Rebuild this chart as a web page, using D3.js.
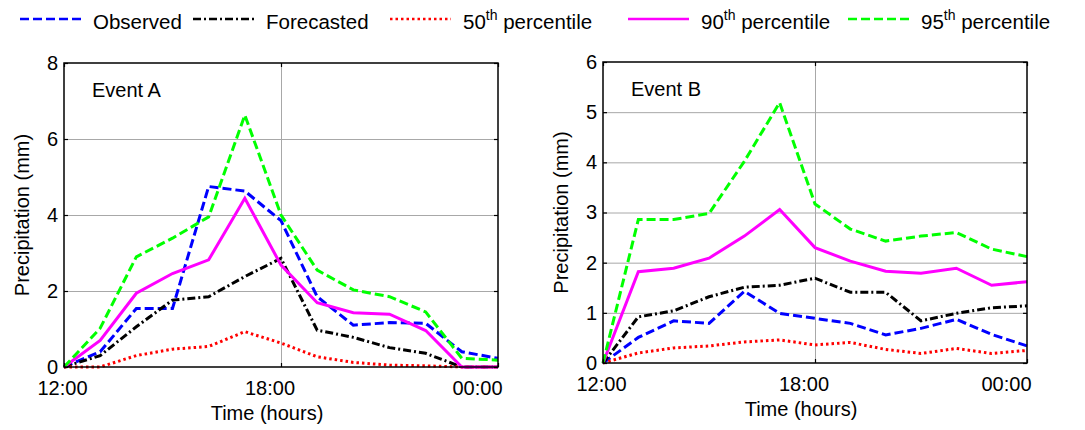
<!DOCTYPE html>
<html>
<head>
<meta charset="utf-8">
<script src="https://cdn.jsdelivr.net/npm/d3@7"></script>
<style>
  body { margin: 0; background: #fff; }
  svg { display: block; font-family: Arial, "Liberation Sans", sans-serif; }
  .grid line { stroke: #a8a8a8; stroke-width: 1; }
  .grid path { display: none; }
  .ticks path { display: none; }
  .ticks line { stroke: #000; stroke-width: 1.2; }
  .ticks text { font-size: 20px; fill: #000; }
</style>
</head>
<body>
<svg width="1085" height="430"></svg>
<script>
// hours after 12:00
let hours = [0, 1, 2, 3, 4, 5, 6, 7, 8, 9, 10, 11, 12];
let xTickValues = [0, 6, 12];
let xTickLabels = ["12:00", "18:00", "00:00"];

let seriesNames = ["Observed", "Forecasted", "50", "90", "95"];

// Event A
let aObserved = [0, 0.4, 1.54, 1.54, 4.75, 4.63, 3.85, 1.85, 1.1, 1.17, 1.15, 0.4, 0.23];
let aForecast = [0, 0.3, 1.06, 1.76, 1.85, 2.38, 2.86, 0.97, 0.78, 0.51, 0.36, 0, 0];
let aP50 = [0, 0, 0.3, 0.47, 0.54, 0.93, 0.63, 0.27, 0.12, 0.05, 0.03, 0, 0];
let aP90 = [0, 0.7, 1.94, 2.46, 2.82, 4.44, 2.68, 1.69, 1.43, 1.39, 0.96, 0, 0];
let aP95 = [0, 1.02, 2.9, 3.39, 3.95, 6.63, 4.0, 2.55, 2.03, 1.85, 1.45, 0.23, 0.18];

// Event B
let bObserved = [0, 0.51, 0.84, 0.79, 1.43, 0.99, 0.89, 0.79, 0.56, 0.69, 0.87, 0.57, 0.34];
let bForecast = [0, 0.92, 1.04, 1.32, 1.51, 1.55, 1.69, 1.41, 1.41, 0.84, 0.99, 1.1, 1.14];
let bP50 = [0, 0.2, 0.3, 0.34, 0.42, 0.46, 0.36, 0.41, 0.27, 0.19, 0.29, 0.19, 0.25];
let bP90 = [0, 1.82, 1.89, 2.09, 2.53, 3.06, 2.3, 2.03, 1.83, 1.79, 1.89, 1.55, 1.62];
let bP95 = [0, 2.86, 2.86, 2.98, 4.02, 5.19, 3.17, 2.67, 2.43, 2.53, 2.6, 2.27, 2.12];

let aYTicks = [0, 2, 4, 6, 8];
let bYTicks = [0, 1, 2, 3, 4, 5, 6];

let styles = [
  { color: "#0000ff", dash: "9,4" },
  { color: "#000000", dash: "8,3,2,3" },
  { color: "#ff0000", dash: "2.5,3" },
  { color: "#ff00ff", dash: null },
  { color: "#00ff00", dash: "9,4" }
];

let panels = [
  { title: "Event A", left: 64, right: 498, top: 63, bottom: 367, yMax: 8, yTicks: aYTicks,
    series: [aObserved, aForecast, aP50, aP90, aP95] },
  { title: "Event B", left: 603, right: 1027, top: 62, bottom: 363, yMax: 6, yTicks: bYTicks,
    series: [bObserved, bForecast, bP50, bP90, bP95] }
];

let svg = d3.select("svg");

panels.forEach(function(p){
  let x = d3.scaleLinear().domain([0, 12]).range([p.left, p.right]);
  let y = d3.scaleLinear().domain([0, p.yMax]).range([p.bottom, p.top]);
  let w = p.right - p.left, h = p.bottom - p.top;

  let g = svg.append("g");

  // grid
  g.append("g").attr("class", "grid")
    .attr("transform", `translate(${p.left},0)`)
    .call(d3.axisLeft(y).tickValues(p.yTicks.slice(1, -1)).tickSize(-w).tickFormat(""));
  g.append("g").attr("class", "grid")
    .attr("transform", `translate(0,${p.bottom})`)
    .call(d3.axisBottom(x).tickValues([6]).tickSize(-h).tickFormat(""));

  // lines
  let line = d3.line().x((d, i) => x(hours[i])).y(d => y(d));
  p.series.forEach(function(s, k){
    g.append("path")
      .datum(s)
      .attr("d", line)
      .attr("fill", "none")
      .attr("stroke", styles[k].color)
      .attr("stroke-width", 3)
      .attr("stroke-dasharray", styles[k].dash)
      .attr("stroke-linejoin", "miter");
  });

  // frame
  g.append("rect")
    .attr("x", p.left).attr("y", p.top)
    .attr("width", w).attr("height", h)
    .attr("fill", "none").attr("stroke", "#000").attr("stroke-width", 1.5);

  // inward ticks
  g.append("g").attr("class", "ticks")
    .attr("transform", `translate(${p.left},0)`)
    .call(d3.axisLeft(y).tickValues(p.yTicks).tickSize(-4).tickPadding(6).tickFormat(d3.format("d")));
  g.append("g").attr("class", "ticks")
    .attr("transform", `translate(${p.right},0)`)
    .call(d3.axisRight(y).tickValues(p.yTicks).tickSize(-4).tickFormat(""));
  g.append("g").attr("class", "ticks")
    .attr("transform", `translate(0,${p.top})`)
    .call(d3.axisTop(x).tickValues(xTickValues).tickSize(-4).tickFormat(""));
  g.append("g").attr("class", "ticks")
    .attr("transform", `translate(0,${p.bottom})`)
    .call(d3.axisBottom(x).tickValues(xTickValues).tickSize(-4).tickFormat(""));

  // time labels (placed slightly compressed, as in the original export)
  let xl = d3.scaleLinear().domain([0, 12]).range([p.left - 2, p.right - 21]);
  g.append("g").attr("class", "ticks")
    .attr("transform", `translate(0,${p.bottom})`)
    .call(d3.axisBottom(xl).tickValues(xTickValues).tickSize(0).tickPadding(14)
      .tickFormat((d, i) => xTickLabels[i]))
    .selectAll("line").remove();

  g.append("text")
    .attr("x", (p.left + p.right) / 2 - 14)
    .attr("y", p.bottom + 53)
    .attr("text-anchor", "middle")
    .style("font-size", "20px")
    .text("Time (hours)");

  g.append("text")
    .attr("transform", `translate(${p.left - 35},${(p.top + p.bottom) / 2}) rotate(-90)`)
    .attr("text-anchor", "middle")
    .style("font-size", "20px")
    .text("Precipitation (mm)");

  g.append("text")
    .attr("x", p.left + 28)
    .attr("y", p.top + 34)
    .style("font-size", "20px")
    .text(p.title);
});

// legend
let legendX = [20, 193, 390, 628, 848];
let legend = svg.append("g");
seriesNames.forEach(function(name, k){
  let lx = legendX[k];
  legend.append("line")
    .attr("x1", lx).attr("x2", lx + 61)
    .attr("y1", 19).attr("y2", 19)
    .attr("stroke", styles[k].color)
    .attr("stroke-width", 2.6)
    .attr("stroke-dasharray", styles[k].dash);
  let t = legend.append("text")
    .attr("x", lx + 73).attr("y", 29)
    .style("font-size", "20.5px");
  if (k < 2) {
    t.text(name);
  } else {
    t.append("tspan").text(name);
    t.append("tspan").attr("dy", -9).style("font-size", "14px").text("th");
    t.append("tspan").attr("dy", 9).text(" percentile");
  }
});
</script>
</body>
</html>
